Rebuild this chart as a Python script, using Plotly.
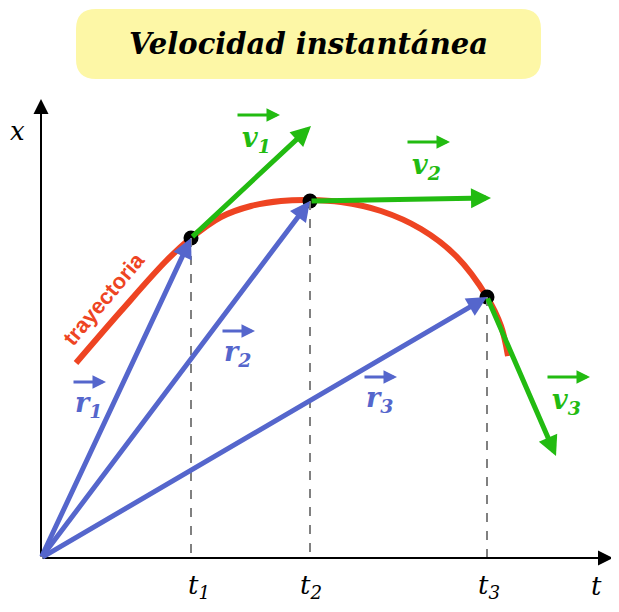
import plotly.graph_objects as go

# trajectory (pixel-space diagram coords)
traj_x = [75, 120, 165, 190, 220, 250, 280, 309, 340, 380, 420, 455, 486, 500, 507]
traj_y = [362, 310, 260, 237, 216, 205, 200, 199, 201, 210, 228, 255, 296, 325, 355]
pts_x = [190, 309, 486]
pts_y = [237, 200, 296]
v_tip_x = [310, 490, 555]
v_tip_y = [125, 197, 455]
origin = (40, 557)
t_labels = ["t<sub>1</sub>", "t<sub>2</sub>", "t<sub>3</sub>"]
r_labels = ["r<sub>1</sub>", "r<sub>2</sub>", "r<sub>3</sub>"]
v_labels = ["v<sub>1</sub>", "v<sub>2</sub>", "v<sub>3</sub>"]

GREEN, BLUE, RED = "#22bb11", "#5566cc", "#ee4422"
fig = go.Figure()
fig.add_trace(go.Scatter(x=traj_x, y=traj_y, mode="lines", line=dict(color=RED, width=6, shape="spline"), hoverinfo="skip"))
for px, py in zip(pts_x, pts_y):
    fig.add_shape(type="line", x0=px, y0=py, x1=px, y1=origin[1], line=dict(color="gray", width=2, dash="dash"))

ann = []
def arrow(x0, y0, x1, y1, color, w, size=1.0):
    ann.append(dict(x=x1, y=y1, ax=x0, ay=y0, xref="x", yref="y", axref="x", ayref="y", showarrow=True,
                    arrowhead=2, arrowsize=size, arrowwidth=w, arrowcolor=color, text=""))
# axes
arrow(origin[0], origin[1], 612, origin[1], "black", 2, 1.5)
arrow(origin[0], origin[1], origin[0], 98, "black", 2, 1.5)
for px, py in zip(pts_x, pts_y):
    arrow(origin[0], origin[1], px, py, BLUE, 5, 0.8)
for px, py, vx, vy in zip(pts_x, pts_y, v_tip_x, v_tip_y):
    arrow(px, py, vx, vy, GREEN, 5, 0.8)

font_l = dict(family="DejaVu Serif", size=27)
r_pos = [(87, 403), (236, 352), (378, 398)]
v_pos = [(255, 138), (425, 165), (565, 400)]
for (x, y), t in zip(r_pos, r_labels):
    ann.append(dict(x=x, y=y, text="<b><i>%s</i></b>" % t, showarrow=False, font=dict(font_l, color=BLUE)))
    arrow(x - 16, y - 22, x + 18, y - 22, BLUE, 3, 0.9)
for (x, y), t in zip(v_pos, v_labels):
    ann.append(dict(x=x, y=y, text="<b><i>%s</i></b>" % t, showarrow=False, font=dict(font_l, color=GREEN)))
    arrow(x - 20, y - 24, x + 24, y - 24, GREEN, 3, 0.9)
for px, t in zip([198, 310, 488], t_labels):
    ann.append(dict(x=px, y=585, text="<i>%s</i>" % t, showarrow=False, font=dict(family="DejaVu Serif", size=26, color="black")))
ann.append(dict(x=595, y=585, text="<i>t</i>", showarrow=False, font=dict(family="DejaVu Serif", size=26, color="black")))
ann.append(dict(x=16, y=130, text="<i>x</i>", showarrow=False, font=dict(family="DejaVu Serif", size=26, color="black")))
ann.append(dict(x=102, y=298, text="<b>trayectoria</b>", textangle=-50, showarrow=False, font=dict(family="Liberation Sans Narrow, Liberation Sans", size=22, color=RED)))
ann.append(dict(x=307, y=43, text="<b><i>Velocidad instantánea</i></b>", showarrow=False, font=dict(family="DejaVu Serif", size=29, color="black")))

fig.add_shape(type="path", path="M 95 8 L 520 8 Q 540 8 540 28 L 540 58 Q 540 78 520 78 L 95 78 Q 75 78 75 58 L 75 28 Q 75 8 95 8 Z",
              fillcolor="#fdf7a6", line=dict(width=0), layer="below")
fig.add_trace(go.Scatter(x=pts_x, y=pts_y, mode="markers", marker=dict(color="black", size=15), hoverinfo="skip"))

fig.update_layout(width=619, height=612, autosize=False, margin=dict(l=0, r=0, t=0, b=0), showlegend=False,
                  plot_bgcolor="white", paper_bgcolor="white", annotations=ann,
                  xaxis=dict(range=[7, 626], visible=False), yaxis=dict(range=[619, 7], visible=False))
fig.write_html("out.html")
